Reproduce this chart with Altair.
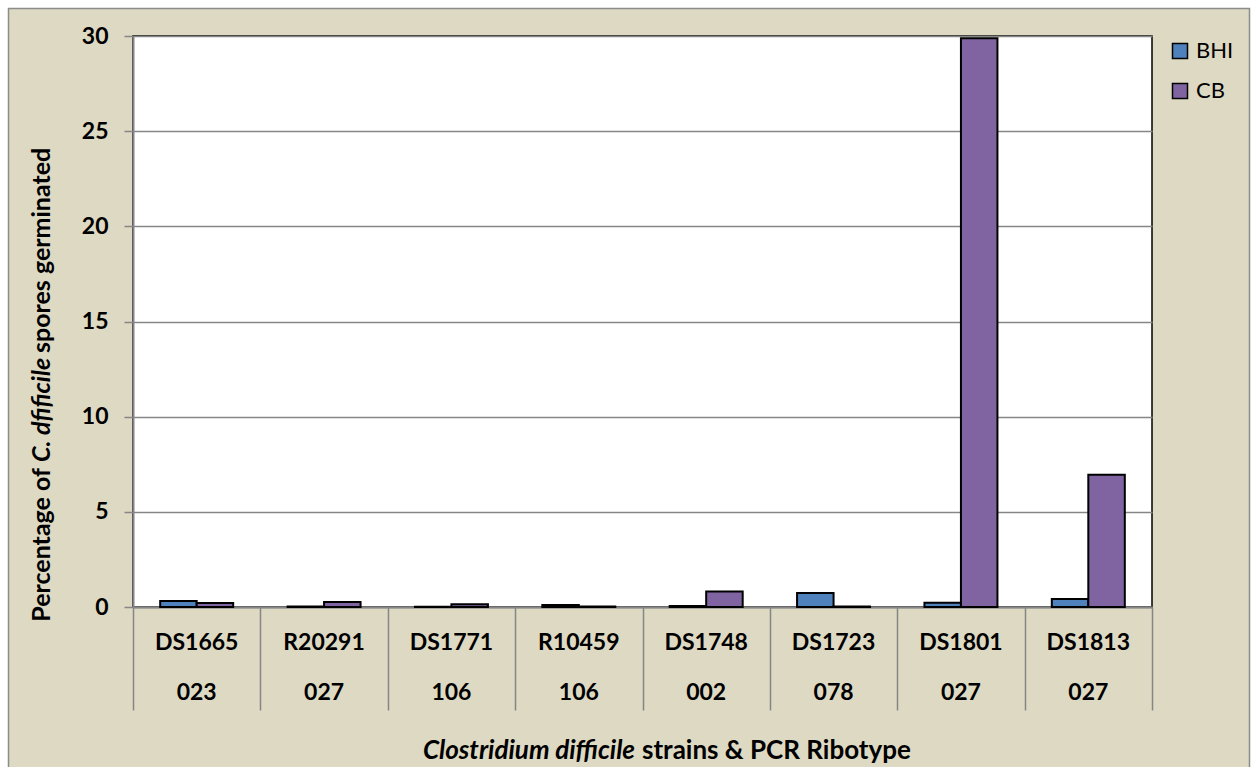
import altair as alt
import pandas as pd

strains = ["DS1665", "R20291", "DS1771", "R10459", "DS1748", "DS1723", "DS1801", "DS1813"]
ribotypes = ["023", "027", "106", "106", "002", "078", "027", "027"]
bhi = [0.32, 0.02, 0.01, 0.10, 0.05, 0.74, 0.22, 0.42]
cb = [0.21, 0.26, 0.15, 0.02, 0.81, 0.02, 29.88, 6.95]
series = ["BHI", "CB"]
colors = ["#4F81BD", "#8064A2"]
y_ticks = [0, 5, 10, 15, 20, 25, 30]

FONT = "Lato"
W, H = 1019, 571
L, T = 133, 36
BG = "#DDD9C3"
GRAY = "#868686"
LBL = 23
TTL = 26
YTTL = 25

rows = []
for s, r, b, c in zip(strains, ribotypes, bhi, cb):
    rows.append({"strain": s, "ribotype": r, "series": "BHI", "value": b})
    rows.append({"strain": s, "ribotype": r, "series": "CB", "value": c})
df = pd.DataFrame(rows)
labels_df = pd.DataFrame({"strain": strains, "ribotype": ribotypes})
one = pd.DataFrame({"a": [0]})

xscale = alt.Scale(domain=strains, paddingInner=0, paddingOuter=0)

# outer white margin and gray border
frame_white = alt.Chart(one).mark_rect(fill=None, stroke="white", strokeWidth=8).encode(
    x=alt.value(4 - L), x2=alt.value(1254 - L), y=alt.value(4 - T), y2=alt.value(820))
frame_gray = alt.Chart(one).mark_rect(fill=None, stroke="#8C8C8C", strokeWidth=1.5).encode(
    x=alt.value(8.5 - L), x2=alt.value(1249.5 - L), y=alt.value(8.5 - T), y2=alt.value(820))

bars = alt.Chart(df).mark_bar(stroke="black", strokeWidth=2).encode(
    x=alt.X("strain:N", scale=xscale, sort=strains,
            axis=alt.Axis(title=None, labels=False, tickBand="extent", tickSize=103,
                          tickColor=GRAY, tickWidth=1.5, domainColor=GRAY, domainWidth=2)),
    xOffset=alt.XOffset("series:N", sort=series,
                        scale=alt.Scale(paddingInner=0, paddingOuter=0.745)),
    y=alt.Y("value:Q", scale=alt.Scale(domain=[0, 30], nice=False),
            axis=alt.Axis(title=None, values=y_ticks, tickSize=9, tickColor=GRAY, tickWidth=1.5,
                          domainColor=GRAY, domainWidth=2, gridColor=GRAY, gridWidth=1.3,
                          labelFont=FONT, labelFontWeight="bold", labelFontSize=LBL,
                          labelColor="black", labelPadding=16)),
    color=alt.Color("series:N", sort=series, scale=alt.Scale(domain=series, range=colors),
                    legend=alt.Legend(title=None, orient="none", legendX=1036, legendY=4,
                                      symbolType="square", symbolSize=225,
                                      symbolStrokeColor="black", symbolStrokeWidth=1.5,
                                      labelFont=FONT, labelFontSize=22, labelColor="black",
                                      rowPadding=18, labelOffset=5, padding=0)),
)

strain_text = alt.Chart(labels_df).mark_text(font=FONT, fontWeight="bold", fontSize=LBL,
                                            baseline="middle", color="black").encode(
    x=alt.X("strain:N", scale=xscale, sort=strains), y=alt.value(H + 36), text="strain:N")
ribo_text = alt.Chart(labels_df).mark_text(font=FONT, fontWeight="bold", fontSize=LBL,
                                          baseline="middle", color="black").encode(
    x=alt.X("strain:N", scale=xscale, sort=strains), y=alt.value(H + 86), text="ribotype:N")

def txt(s, x, y, align, size, italic=False, angle=0):
    kw = dict(font=FONT, fontWeight="bold", fontSize=size, baseline="middle", align=align,
              color="black", text=s)
    if italic:
        kw["fontStyle"] = "italic"
    if angle:
        kw["angle"] = angle
    return alt.Chart(one).mark_text(**kw).encode(x=alt.value(x), y=alt.value(y))

xt1 = txt("Clostridium difficile", 635 - L, 751 - T, "right", TTL, italic=True)
xt2 = txt("strains & PCR Ribotype", 642 - L, 751 - T, "left", TTL)
yt1 = txt("Percentage of", 42 - L, 468 - T, "right", YTTL, angle=270)
yt2 = txt("C. dfificile", 42 - L, 462 - T, "left", YTTL, italic=True, angle=270)
yt3 = txt("spores germinated", 42 - L, 353 - T, "left", YTTL, angle=270)

chart = alt.layer(frame_white, frame_gray, bars, strain_text, ribo_text,
                  xt1, xt2, yt1, yt2, yt3).properties(
    width=W, height=H,
    autosize=alt.AutoSizeParams(type="none"),
    padding={"left": L, "top": T, "right": 1258 - L - W, "bottom": 767 - T - H},
    background=BG,
).configure_view(fill="white", stroke="black", strokeWidth=1.5)

chart.save("out.html", embed_options={"renderer": "svg", "actions": False})
